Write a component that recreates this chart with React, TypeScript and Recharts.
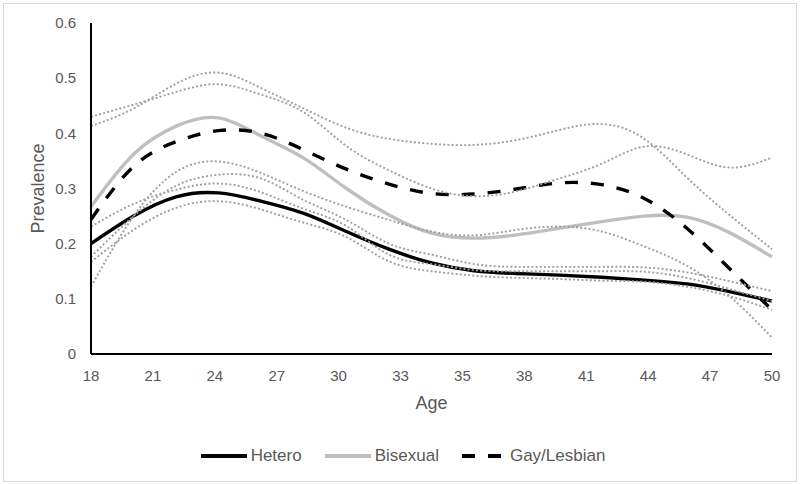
import React from "react";
import { LineChart, Line, XAxis, YAxis } from "recharts";

const ages = [18, 20, 22, 24, 26, 28, 30, 32, 34, 36, 38, 40, 42, 44, 46, 48, 50];

const hetero = [0.2, 0.25, 0.285, 0.292, 0.277, 0.255, 0.222, 0.19, 0.165, 0.151, 0.146, 0.143, 0.139, 0.134, 0.127, 0.113, 0.096];
const bisexual = [0.267, 0.362, 0.413, 0.428, 0.395, 0.355, 0.3, 0.252, 0.219, 0.21, 0.216, 0.228, 0.24, 0.25, 0.248, 0.22, 0.176];
const gayLesbian = [0.244, 0.34, 0.385, 0.405, 0.4, 0.37, 0.335, 0.308, 0.291, 0.29, 0.299, 0.31, 0.307, 0.282, 0.228, 0.155, 0.08];

// confidence bands (dotted)
const ciA = [0.413, 0.445, 0.49, 0.51, 0.482, 0.445, 0.41, 0.39, 0.381, 0.379, 0.388, 0.406, 0.417, 0.39, 0.32, 0.252, 0.19];
const ciB = [0.43, 0.452, 0.475, 0.489, 0.47, 0.438, 0.377, 0.333, 0.3, 0.286, 0.295, 0.318, 0.345, 0.376, 0.362, 0.338, 0.356];
const ciC = [0.122, 0.25, 0.33, 0.349, 0.328, 0.295, 0.267, 0.243, 0.222, 0.215, 0.225, 0.231, 0.222, 0.195, 0.16, 0.105, 0.03];
const ciD = [0.176, 0.25, 0.305, 0.325, 0.318, 0.279, 0.243, 0.2, 0.18, 0.163, 0.158, 0.158, 0.158, 0.157, 0.148, 0.132, 0.114];
const ciE = [0.231, 0.272, 0.298, 0.309, 0.293, 0.263, 0.232, 0.18, 0.163, 0.152, 0.15, 0.15, 0.15, 0.149, 0.138, 0.118, 0.096];
const ciF = [0.167, 0.225, 0.265, 0.277, 0.262, 0.238, 0.212, 0.168, 0.15, 0.142, 0.138, 0.136, 0.133, 0.131, 0.122, 0.105, 0.08];

const ageTicks = [18, 20.909, 23.818, 26.727, 29.636, 32.545, 35.455, 38.364, 41.273, 44.182, 47.091, 50];
const ageTickLabels = ["18", "21", "24", "27", "30", "33", "35", "38", "41", "44", "47", "50"];
const prevalenceTicks = [0, 0.1, 0.2, 0.3, 0.4, 0.5, 0.6];

const chartData = ages.map((age, i) => ({
  age,
  hetero: hetero[i],
  bisexual: bisexual[i],
  gay: gayLesbian[i],
  ciA: ciA[i],
  ciB: ciB[i],
  ciC: ciC[i],
  ciD: ciD[i],
  ciE: ciE[i],
  ciF: ciF[i],
}));

const FONT = "'Liberation Sans', Arial, sans-serif";
const TEXT = "#595959";

const mainSeries = [
  { key: "bisexual", name: "Bisexual", color: "#bfbfbf", dash: undefined },
  { key: "hetero", name: "Hetero", color: "#000000", dash: undefined },
  { key: "gay", name: "Gay/Lesbian", color: "#000000", dash: "13 13" },
];
const legendOrder = ["hetero", "bisexual", "gay"];
const ciKeys = ["ciA", "ciB", "ciC", "ciD", "ciE", "ciF"];

const LegendSample = ({ color, dash }: { color: string; dash?: string }) => (
  <svg width={dash ? 41 : 46} height={6} style={{ display: "block" }}>
    <line x1={0} y1={3} x2={dash ? 41 : 46} y2={3} stroke={color} strokeWidth={4} strokeDasharray={dash} />
  </svg>
);

export default function App() {
  return (
    <div style={{ position: "absolute", left: 0, top: 0, width: 800, height: 484, background: "#fff", fontFamily: FONT }}>
      <div style={{ position: "absolute", left: 3, top: 3, width: 792, height: 477, border: "1px solid #d9d9d9" }} />
      <div style={{ position: "absolute", left: 0, top: 0 }}>
        <LineChart width={800} height={484} data={chartData} margin={{ top: 23, right: 28, bottom: 100, left: 31 }}>
          <XAxis
            type="number"
            dataKey="age"
            domain={[18, 50]}
            ticks={ageTicks}
            interval={0}
            tickFormatter={(v: number) => ageTickLabels[ageTicks.indexOf(v)] ?? String(Math.round(v))}
            axisLine={{ stroke: "#000", strokeWidth: 2 }}
            tickLine={false}
            tickSize={0}
            tickMargin={16}
            height={30}
            tick={{ fill: TEXT, fontSize: 15, fontFamily: FONT }}
            label={{ value: "Age", position: "bottom", offset: 12, fill: TEXT, fontSize: 18, fontFamily: FONT }}
          />
          <YAxis
            type="number"
            domain={[0, 0.6]}
            ticks={prevalenceTicks}
            interval={0}
            axisLine={{ stroke: "#000", strokeWidth: 2 }}
            tickLine={false}
            tickSize={0}
            tickMargin={15}
            width={60}
            tick={{ fill: TEXT, fontSize: 15, fontFamily: FONT }}
            label={{
              value: "Prevalence",
              angle: -90,
              position: "insideLeft",
              offset: 7,
              fill: TEXT,
              fontSize: 18,
              fontFamily: FONT,
              style: { textAnchor: "middle" },
            }}
          />
          {mainSeries.map((s) => (
            <Line
              key={s.key}
              type="natural"
              dataKey={s.key}
              name={s.name}
              stroke={s.color}
              strokeWidth={3.4}
              strokeDasharray={s.dash}
              dot={false}
              activeDot={false}
              isAnimationActive={false}
            />
          ))}
          {ciKeys.map((k) => (
            <Line
              key={k}
              type="natural"
              dataKey={k}
              stroke="#9e9e9e"
              strokeWidth={1.9}
              strokeDasharray="2 2.2"
              dot={false}
              activeDot={false}
              isAnimationActive={false}
            />
          ))}
        </LineChart>
      </div>
      <div
        style={{
          position: "absolute",
          left: 0,
          top: 445,
          width: 806,
          height: 22,
          display: "flex",
          alignItems: "center",
          justifyContent: "center",
          fontSize: 17,
          color: TEXT,
        }}
      >
        {legendOrder.map((k, i) => {
          const s = mainSeries.find((m) => m.key === k)!;
          return (
            <div key={k} style={{ display: "flex", alignItems: "center", marginRight: i < legendOrder.length - 1 ? 23 : 0 }}>
              <LegendSample color={s.color} dash={s.dash} />
              <span style={{ marginLeft: s.dash ? 7 : 4 }}>{s.name}</span>
            </div>
          );
        })}
      </div>
    </div>
  );
}
